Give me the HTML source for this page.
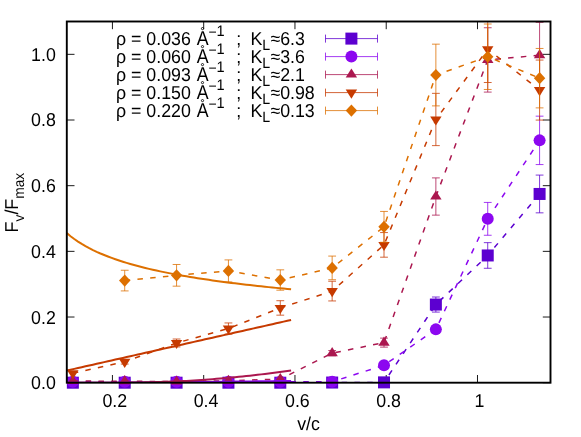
<!DOCTYPE html>
<html><head><meta charset="utf-8"><title>plot</title><style>html,body{margin:0;padding:0;background:#fff}svg{display:block;will-change:transform}</style></head><body>
<svg width="581" height="437" viewBox="0 0 581 437">
<rect width="581" height="437" fill="#fff"/>
<defs><clipPath id="cp"><rect x="66.8" y="21.5" width="483.7" height="361.2"/></clipPath></defs>
<g stroke="#000" stroke-width="0.9" fill="none">
<path d="M112.43 382.7v-7.7M112.43 21.5v7.7"/>
<path d="M203.7 382.7v-7.7M203.7 21.5v7.7"/>
<path d="M294.96 382.7v-7.7M294.96 21.5v7.7"/>
<path d="M386.22 382.7v-7.7M386.22 21.5v7.7"/>
<path d="M477.49 382.7v-7.7M477.49 21.5v7.7"/>
<path d="M66.8 382.7h7.7M550.5 382.7h-7.7"/>
<path d="M66.8 317.03h7.7M550.5 317.03h-7.7"/>
<path d="M66.8 251.35h7.7M550.5 251.35h-7.7"/>
<path d="M66.8 185.68h7.7M550.5 185.68h-7.7"/>
<path d="M66.8 120.01h7.7M550.5 120.01h-7.7"/>
<path d="M66.8 54.34h7.7M550.5 54.34h-7.7"/>
</g>
<polyline clip-path="url(#cp)" fill="none" stroke="#5c00d0" stroke-width="1.5" stroke-dasharray="5.5 7.3" points="72.85,382.7 124.71,382.7 176.57,382.7 228.43,382.7 280.29,382.7 332.15,382.54 384.01,382.37 435.87,304.55 487.73,255.46 539.59,193.96"/>
<path clip-path="url(#cp)" d="M435.87 297V312.1M431.97 297h7.8M431.97 312.1h7.8M487.73 242.65V268.27M483.83 242.65h7.8M483.83 268.27h7.8M539.59 175.08V212.84M535.69 175.08h7.8M535.69 212.84h7.8" fill="none" stroke="#5c00d0" stroke-width="1" stroke-opacity="0.78"/>
<rect x="66.85" y="376.7" width="12" height="12" fill="#5c00d0"/>
<rect x="118.71" y="376.7" width="12" height="12" fill="#5c00d0"/>
<rect x="170.57" y="376.7" width="12" height="12" fill="#5c00d0"/>
<rect x="222.43" y="376.7" width="12" height="12" fill="#5c00d0"/>
<rect x="274.29" y="376.7" width="12" height="12" fill="#5c00d0"/>
<rect x="326.15" y="376.54" width="12" height="12" fill="#5c00d0"/>
<rect x="378.01" y="376.37" width="12" height="12" fill="#5c00d0"/>
<rect x="429.87" y="298.55" width="12" height="12" fill="#5c00d0"/>
<rect x="481.73" y="249.46" width="12" height="12" fill="#5c00d0"/>
<rect x="533.59" y="187.96" width="12" height="12" fill="#5c00d0"/>
<polyline clip-path="url(#cp)" fill="none" stroke="#8c07f0" stroke-width="1.5" stroke-dasharray="5.5 7.3" points="72.85,381.71 124.71,381.71 176.57,381.71 228.43,381.71 280.29,381.71 332.15,381.71 384.01,365.3 435.87,329.37 487.73,218.85 539.59,140.37"/>
<path clip-path="url(#cp)" d="M435.87 327.4V331.34M431.97 327.4h7.8M431.97 331.34h7.8M487.73 202.43V235.26M483.83 202.43h7.8M483.83 235.26h7.8M539.59 116.17V164.57M535.69 116.17h7.8M535.69 164.57h7.8" fill="none" stroke="#8c07f0" stroke-width="1" stroke-opacity="0.78"/>
<circle cx="72.85" cy="381.71" r="6" fill="#8c07f0"/>
<circle cx="124.71" cy="381.71" r="6" fill="#8c07f0"/>
<circle cx="176.57" cy="381.71" r="6" fill="#8c07f0"/>
<circle cx="228.43" cy="381.71" r="6" fill="#8c07f0"/>
<circle cx="280.29" cy="381.71" r="6" fill="#8c07f0"/>
<circle cx="332.15" cy="381.71" r="6" fill="#8c07f0"/>
<circle cx="384.01" cy="365.3" r="6" fill="#8c07f0"/>
<circle cx="435.87" cy="329.37" r="6" fill="#8c07f0"/>
<circle cx="487.73" cy="218.85" r="6" fill="#8c07f0"/>
<circle cx="539.59" cy="140.37" r="6" fill="#8c07f0"/>
<polyline clip-path="url(#cp)" fill="none" stroke="#ab174f" stroke-width="1.5" stroke-dasharray="5.5 7.3" points="72.85,381.06 124.71,381.22 176.57,381.55 228.43,380.73 280.29,379.09 332.15,353.15 384.01,342.64 435.87,196.52 487.73,59.92 539.59,55.16"/>
<path clip-path="url(#cp)" d="M332.15 350.52V355.77M328.25 350.52h7.8M328.25 355.77h7.8M384.01 338.14V347.14M380.11 338.14h7.8M380.11 347.14h7.8M435.87 177.9V215.14M431.97 177.9h7.8M431.97 215.14h7.8M487.73 27.74V92.1M483.83 27.74h7.8M483.83 92.1h7.8M539.59 22.32V87.99M535.69 22.32h7.8M535.69 87.99h7.8" fill="none" stroke="#ab174f" stroke-width="1" stroke-opacity="0.78"/>
<path d="M72.85 374.96L78.55 384.06H67.15Z" fill="#ab174f"/>
<path d="M124.71 375.12L130.41 384.22H119.01Z" fill="#ab174f"/>
<path d="M176.57 375.45L182.27 384.55H170.87Z" fill="#ab174f"/>
<path d="M228.43 374.63L234.13 383.73H222.73Z" fill="#ab174f"/>
<path d="M280.29 372.99L285.99 382.09H274.59Z" fill="#ab174f"/>
<path d="M332.15 347.05L337.85 356.15H326.45Z" fill="#ab174f"/>
<path d="M384.01 336.54L389.71 345.64H378.31Z" fill="#ab174f"/>
<path d="M435.87 190.42L441.57 199.52H430.17Z" fill="#ab174f"/>
<path d="M487.73 53.82L493.43 62.92H482.03Z" fill="#ab174f"/>
<path d="M539.59 49.06L545.29 58.16H533.89Z" fill="#ab174f"/>
<polyline clip-path="url(#cp)" fill="none" stroke="#c63a00" stroke-width="1.5" stroke-dasharray="5.5 7.3" points="72.85,373.18 124.71,361.78 176.57,342.97 228.43,328.52 280.29,307.93 332.15,291.09 384.01,244.89 435.87,119.48 487.73,49.18 539.59,90.06"/>
<path clip-path="url(#cp)" d="M124.71 359.48V364.08M120.81 359.48h7.8M120.81 364.08h7.8M176.57 339.03V346.91M172.67 339.03h7.8M172.67 346.91h7.8M228.43 322.94V334.1M224.53 322.94h7.8M224.53 334.1h7.8M280.29 300.71V315.16M276.39 300.71h7.8M276.39 315.16h7.8M332.15 281.24V300.94M328.25 281.24h7.8M328.25 300.94h7.8M384.01 232.57V257.2M380.11 232.57h7.8M380.11 257.2h7.8M435.87 93.35V145.62M431.97 93.35h7.8M431.97 145.62h7.8M487.73 15.85V82.51M483.83 15.85h7.8M483.83 82.51h7.8M539.59 60.05V120.07M535.69 60.05h7.8M535.69 120.07h7.8" fill="none" stroke="#c63a00" stroke-width="1" stroke-opacity="0.78"/>
<path d="M72.85 379.28L78.55 370.18H67.15Z" fill="#c63a00"/>
<path d="M124.71 367.88L130.41 358.78H119.01Z" fill="#c63a00"/>
<path d="M176.57 349.07L182.27 339.97H170.87Z" fill="#c63a00"/>
<path d="M228.43 334.62L234.13 325.52H222.73Z" fill="#c63a00"/>
<path d="M280.29 314.03L285.99 304.93H274.59Z" fill="#c63a00"/>
<path d="M332.15 297.19L337.85 288.09H326.45Z" fill="#c63a00"/>
<path d="M384.01 250.99L389.71 241.89H378.31Z" fill="#c63a00"/>
<path d="M435.87 125.58L441.57 116.48H430.17Z" fill="#c63a00"/>
<path d="M487.73 55.28L493.43 46.18H482.03Z" fill="#c63a00"/>
<path d="M539.59 96.16L545.29 87.06H533.89Z" fill="#c63a00"/>
<polyline clip-path="url(#cp)" fill="none" stroke="#dd7000" stroke-width="1.5" stroke-dasharray="5.5 7.3" points="124.71,280.58 176.57,275.33 228.43,270.93 280.29,280.02 332.15,267.9 384.01,226.86 435.87,75.02 487.73,56.73 539.59,78.18"/>
<path clip-path="url(#cp)" d="M124.71 270.24V290.92M120.81 270.24h7.8M120.81 290.92h7.8M176.57 264.49V286.16M172.67 264.49h7.8M172.67 286.16h7.8M228.43 259.92V281.93M224.53 259.92h7.8M224.53 281.93h7.8M280.29 269.84V290.2M276.39 269.84h7.8M276.39 290.2h7.8M332.15 256.08V279.73M328.25 256.08h7.8M328.25 279.73h7.8M384.01 211.43V242.29M380.11 211.43h7.8M380.11 242.29h7.8M435.87 44.16V105.89M431.97 44.16h7.8M431.97 105.89h7.8M487.73 24V89.47M483.83 24h7.8M483.83 89.47h7.8M539.59 48.46V107.89M535.69 48.46h7.8M535.69 107.89h7.8" fill="none" stroke="#dd7000" stroke-width="1" stroke-opacity="0.78"/>
<path d="M124.71 274.48L130.41 280.58L124.71 286.68L119.01 280.58Z" fill="#dd7000"/>
<path d="M176.57 269.23L182.27 275.33L176.57 281.43L170.87 275.33Z" fill="#dd7000"/>
<path d="M228.43 264.83L234.13 270.93L228.43 277.03L222.73 270.93Z" fill="#dd7000"/>
<path d="M280.29 273.92L285.99 280.02L280.29 286.12L274.59 280.02Z" fill="#dd7000"/>
<path d="M332.15 261.8L337.85 267.9L332.15 274L326.45 267.9Z" fill="#dd7000"/>
<path d="M384.01 220.76L389.71 226.86L384.01 232.96L378.31 226.86Z" fill="#dd7000"/>
<path d="M435.87 68.92L441.57 75.02L435.87 81.12L430.17 75.02Z" fill="#dd7000"/>
<path d="M487.73 50.63L493.43 56.73L487.73 62.83L482.03 56.73Z" fill="#dd7000"/>
<path d="M539.59 72.08L545.29 78.18L539.59 84.28L533.89 78.18Z" fill="#dd7000"/>
<g fill="none" stroke-width="2" stroke-linecap="butt" clip-path="url(#cp)">
<polyline points="66.8,382.7 70.54,382.7 74.28,382.7 78.01,382.7 81.75,382.7 85.49,382.7 89.23,382.7 92.97,382.69 96.7,382.69 100.44,382.68 104.18,382.68 107.92,382.67 111.66,382.67 115.39,382.66 119.13,382.64 122.87,382.63 126.61,382.62 130.35,382.6 134.08,382.59 137.82,382.57 141.56,382.55 145.3,382.52 149.04,382.5 152.77,382.48 156.51,382.45 160.25,382.42 163.99,382.39 167.73,382.36 171.46,382.33 175.2,382.29 178.94,382.26 182.68,382.22 186.42,382.19 190.15,382.15 193.89,382.11 197.63,382.07 201.37,382.03 205.11,381.98 208.85,381.94 212.58,381.9 216.32,381.85 220.06,381.81 223.8,381.76 227.54,381.72 231.27,381.67 235.01,381.62 238.75,381.58 242.49,381.53 246.23,381.48 249.96,381.43 253.7,381.38 257.44,381.33 261.18,381.28 264.92,381.23 268.65,381.18 272.39,381.13 276.13,381.08 279.87,381.03 283.61,380.98 287.34,380.93 291.08,380.88" stroke="#8c07f0"/>
<polyline points="66.8,382.7 70.54,382.7 74.28,382.7 78.01,382.7 81.75,382.7 85.49,382.7 89.23,382.7 92.97,382.7 96.7,382.69 100.44,382.69 104.18,382.69 107.92,382.68 111.66,382.67 115.39,382.65 119.13,382.64 122.87,382.62 126.61,382.59 130.35,382.55 134.08,382.51 137.82,382.46 141.56,382.41 145.3,382.34 149.04,382.27 152.77,382.18 156.51,382.09 160.25,381.98 163.99,381.86 167.73,381.73 171.46,381.59 175.2,381.43 178.94,381.26 182.68,381.08 186.42,380.89 190.15,380.68 193.89,380.46 197.63,380.23 201.37,379.98 205.11,379.72 208.85,379.45 212.58,379.16 216.32,378.87 220.06,378.56 223.8,378.23 227.54,377.9 231.27,377.55 235.01,377.19 238.75,376.82 242.49,376.44 246.23,376.05 249.96,375.65 253.7,375.23 257.44,374.81 261.18,374.38 264.92,373.94 268.65,373.49 272.39,373.03 276.13,372.56 279.87,372.09 283.61,371.6 287.34,371.11 291.08,370.61" stroke="#ab174f"/>
<polyline points="66.8,370.55 70.54,369.71 74.28,368.86 78.01,368.02 81.75,367.18 85.49,366.33 89.23,365.49 92.97,364.65 96.7,363.8 100.44,362.96 104.18,362.12 107.92,361.27 111.66,360.43 115.39,359.59 119.13,358.74 122.87,357.9 126.61,357.06 130.35,356.22 134.08,355.37 137.82,354.53 141.56,353.69 145.3,352.84 149.04,352 152.77,351.16 156.51,350.31 160.25,349.47 163.99,348.63 167.73,347.78 171.46,346.94 175.2,346.1 178.94,345.25 182.68,344.41 186.42,343.57 190.15,342.72 193.89,341.88 197.63,341.04 201.37,340.19 205.11,339.35 208.85,338.51 212.58,337.66 216.32,336.82 220.06,335.98 223.8,335.13 227.54,334.29 231.27,333.45 235.01,332.6 238.75,331.76 242.49,330.92 246.23,330.07 249.96,329.23 253.7,328.39 257.44,327.54 261.18,326.7 264.92,325.86 268.65,325.01 272.39,324.17 276.13,323.33 279.87,322.48 283.61,321.64 287.34,320.8 291.08,319.95" stroke="#c63a00"/>
<polyline points="66.8,233.1 70.54,236.19 74.28,239 78.01,241.56 81.75,243.92 85.49,246.11 89.23,248.14 92.97,250.03 96.7,251.8 100.44,253.47 104.18,255.04 107.92,256.52 111.66,257.92 115.39,259.25 119.13,260.52 122.87,261.73 126.61,262.88 130.35,263.98 134.08,265.03 137.82,266.04 141.56,267.01 145.3,267.95 149.04,268.85 152.77,269.71 156.51,270.55 160.25,271.36 163.99,272.14 167.73,272.89 171.46,273.62 175.2,274.33 178.94,275.01 182.68,275.68 186.42,276.33 190.15,276.96 193.89,277.57 197.63,278.16 201.37,278.74 205.11,279.31 208.85,279.86 212.58,280.39 216.32,280.91 220.06,281.42 223.8,281.92 227.54,282.41 231.27,282.89 235.01,283.35 238.75,283.81 242.49,284.25 246.23,284.69 249.96,285.11 253.7,285.53 257.44,285.94 261.18,286.34 264.92,286.74 268.65,287.12 272.39,287.5 276.13,287.88 279.87,288.24 283.61,288.6 287.34,288.95 291.08,289.3" stroke="#dd7000"/>
</g>
<path d="M325.5 38.6H377.5M325.5 34.6v8M377.5 34.6v8" fill="none" stroke="#5c00d0" stroke-width="1" stroke-opacity="0.78"/>
<rect x="345.4" y="32.6" width="12" height="12" fill="#5c00d0"/>
<path d="M325.5 56.6H377.5M325.5 52.6v8M377.5 52.6v8" fill="none" stroke="#8c07f0" stroke-width="1" stroke-opacity="0.78"/>
<circle cx="351.4" cy="56.6" r="6" fill="#8c07f0"/>
<path d="M325.5 74.6H377.5M325.5 70.6v8M377.5 70.6v8" fill="none" stroke="#ab174f" stroke-width="1" stroke-opacity="0.78"/>
<path d="M351.4 68.5L357.1 77.6H345.7Z" fill="#ab174f"/>
<path d="M325.5 92.6H377.5M325.5 88.6v8M377.5 88.6v8" fill="none" stroke="#c63a00" stroke-width="1" stroke-opacity="0.78"/>
<path d="M351.4 98.7L357.1 89.6H345.7Z" fill="#c63a00"/>
<path d="M325.5 110.6H377.5M325.5 106.6v8M377.5 106.6v8" fill="none" stroke="#dd7000" stroke-width="1" stroke-opacity="0.78"/>
<path d="M351.4 104.5L357.1 110.6L351.4 116.7L345.7 110.6Z" fill="#dd7000"/>
<rect x="66.8" y="21.5" width="483.7" height="361.2" fill="none" stroke="#000" stroke-width="1.9"/>
<g font-family="'Liberation Sans', sans-serif" font-size="17.8" fill="#000" text-rendering="geometricPrecision" transform="scale(1 1.05)">
<text x="114.83" y="388" text-anchor="middle">0.2</text>
<text x="206.1" y="388" text-anchor="middle">0.4</text>
<text x="297.36" y="388" text-anchor="middle">0.6</text>
<text x="388.62" y="388" text-anchor="middle">0.8</text>
<text x="479.49" y="388" text-anchor="middle">1</text>
<text x="55.8" y="370.67" text-anchor="end">0.0</text>
<text x="55.8" y="308.12" text-anchor="end">0.2</text>
<text x="55.8" y="245.58" text-anchor="end">0.4</text>
<text x="55.8" y="183.03" text-anchor="end">0.6</text>
<text x="55.8" y="120.48" text-anchor="end">0.8</text>
<text x="55.8" y="57.94" text-anchor="end">1.0</text>
<text x="308.5" y="409.71" text-anchor="middle">v/c</text>
<text x="116" y="42.76">ρ</text><text x="131" y="42.76">=</text><text x="146.3" y="42.76">0.036</text><text transform="translate(196.8 42.76) scale(1 1.08)">A</text><text x="208.4" y="35.14" font-size="14">−</text><text x="216.4" y="34" font-size="14.6">1</text><text x="236.2" y="42.76">;</text><text x="250.6" y="42.76">K</text><text x="262.3" y="48" font-size="14.2">L</text><text x="270.4" y="42.76">≈6.3</text>
<text x="116" y="59.9">ρ</text><text x="131" y="59.9">=</text><text x="146.3" y="59.9">0.060</text><text transform="translate(196.8 59.9) scale(1 1.08)">A</text><text x="208.4" y="52.29" font-size="14">−</text><text x="216.4" y="51.14" font-size="14.6">1</text><text x="236.2" y="59.9">;</text><text x="250.6" y="59.9">K</text><text x="262.3" y="65.14" font-size="14.2">L</text><text x="270.4" y="59.9">≈3.6</text>
<text x="116" y="77.05">ρ</text><text x="131" y="77.05">=</text><text x="146.3" y="77.05">0.093</text><text transform="translate(196.8 77.05) scale(1 1.08)">A</text><text x="208.4" y="69.43" font-size="14">−</text><text x="216.4" y="68.29" font-size="14.6">1</text><text x="236.2" y="77.05">;</text><text x="250.6" y="77.05">K</text><text x="262.3" y="82.29" font-size="14.2">L</text><text x="270.4" y="77.05">≈2.1</text>
<text x="116" y="94.19">ρ</text><text x="131" y="94.19">=</text><text x="146.3" y="94.19">0.150</text><text transform="translate(196.8 94.19) scale(1 1.08)">A</text><text x="208.4" y="86.57" font-size="14">−</text><text x="216.4" y="85.43" font-size="14.6">1</text><text x="236.2" y="94.19">;</text><text x="250.6" y="94.19">K</text><text x="262.3" y="99.43" font-size="14.2">L</text><text x="270.4" y="94.19">≈0.98</text>
<text x="116" y="111.33">ρ</text><text x="131" y="111.33">=</text><text x="146.3" y="111.33">0.220</text><text transform="translate(196.8 111.33) scale(1 1.08)">A</text><text x="208.4" y="103.71" font-size="14">−</text><text x="216.4" y="102.57" font-size="14.6">1</text><text x="236.2" y="111.33">;</text><text x="250.6" y="111.33">K</text><text x="262.3" y="116.57" font-size="14.2">L</text><text x="270.4" y="111.33">≈0.13</text>
</g>
<circle cx="202.5" cy="28.6" r="1.1" fill="none" stroke="#000" stroke-width="0.85"/><circle cx="202.5" cy="46.6" r="1.1" fill="none" stroke="#000" stroke-width="0.85"/><circle cx="202.5" cy="64.6" r="1.1" fill="none" stroke="#000" stroke-width="0.85"/><circle cx="202.5" cy="82.6" r="1.1" fill="none" stroke="#000" stroke-width="0.85"/><circle cx="202.5" cy="100.6" r="1.1" fill="none" stroke="#000" stroke-width="0.85"/>
<text font-family="'Liberation Sans', sans-serif" font-size="17.8" fill="#000" text-rendering="geometricPrecision" transform="translate(17.7 232.4) rotate(-90) scale(1 1.05)">F<tspan font-size="13.8" dy="5.6">v</tspan><tspan dy="-5.6">/F</tspan><tspan font-size="13.8" dy="5.6">max</tspan></text>
</svg>
</body></html>
